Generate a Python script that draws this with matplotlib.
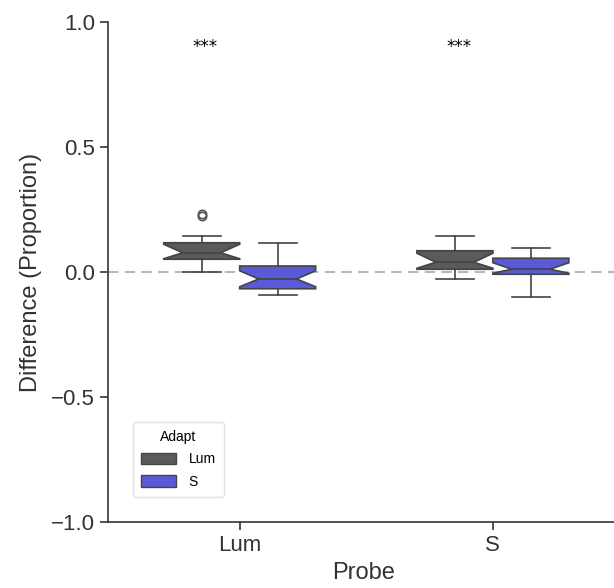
import matplotlib.pyplot as plt
from matplotlib.patches import Patch

plt.rcParams['font.family'] = ['Liberation Sans', 'DejaVu Sans']

# Box summaries per probe (Lum, S) for each adapt condition
probes = ['Lum', 'S']
adapts = ['Lum', 'S']
colors = ['#5a5a5a', '#5a5ad6']

whislo = {'Lum': [0.000, -0.029], 'S': [-0.092, -0.101]}
q1 = {'Lum': [0.051, 0.011], 'S': [-0.067, -0.009]}
med = {'Lum': [0.077, 0.039], 'S': [-0.028, 0.011]}
q3 = {'Lum': [0.117, 0.085], 'S': [0.024, 0.055]}
whishi = {'Lum': [0.144, 0.144], 'S': [0.115, 0.095]}
cilo = {'Lum': [0.053, 0.015], 'S': [-0.059, -0.005]}
cihi = {'Lum': [0.111, 0.075], 'S': [0.005, 0.037]}
fliers = {'Lum': [[0.226, 0.234], []], 'S': [[], []]}

star_labels = ['***', '***']
star_y = 0.9

fig = plt.figure(figsize=(6.14, 5.88), dpi=100)
ax = fig.add_axes([108 / 614, 66 / 588, 511.5 / 614, 500 / 588])

ax.axhline(0, color='#b8b8b8', linestyle='--', linewidth=1.5, dashes=(5, 3), zorder=0)

width = 0.3
offsets = [-0.15, 0.15]
for a, adapt in enumerate(adapts):
    stats = []
    for p in range(len(probes)):
        stats.append(dict(whislo=whislo[adapt][p], q1=q1[adapt][p], med=med[adapt][p],
                          q3=q3[adapt][p], whishi=whishi[adapt][p],
                          cilo=cilo[adapt][p], cihi=cihi[adapt][p],
                          fliers=fliers[adapt][p]))
    pos = [p + offsets[a] for p in range(len(probes))]
    ax.bxp(stats, positions=pos, widths=width, shownotches=True, patch_artist=True,
           manage_ticks=False,
           boxprops=dict(facecolor=colors[a], edgecolor='#444444', linewidth=1.2),
           medianprops=dict(color='#444444', linewidth=1.2),
           whiskerprops=dict(color='#444444', linewidth=1.2),
           capprops=dict(color='#444444', linewidth=1.2),
           flierprops=dict(marker='o', markerfacecolor='none', markeredgecolor='#555555',
                           markersize=6, markeredgewidth=1.2),
           capwidths=width * 0.5)

# significance marks
for p, lab in enumerate(star_labels):
    ax.text(p - 0.135, star_y, lab, ha='center', va='center', fontsize=12,
            family='DejaVu Sans', color='black')

ax.set_xlim(-0.52, 1.5)
ax.set_ylim(-1.0, 1.0)
ax.set_xticks(range(len(probes)))
ax.set_xticklabels(probes)
ax.set_yticks([-1.0, -0.5, 0.0, 0.5, 1.0])
ax.set_yticklabels(['\u22121.0', '\u22120.5', '0.0', '0.5', '1.0'])
ax.tick_params(labelsize=16, length=6, width=1.2, color='#333333', labelcolor='#333333')
ax.set_xlabel('Probe', fontsize=17, color='#333333', labelpad=4)
ax.set_ylabel('Difference (Proportion)', fontsize=17, color='#333333', labelpad=6)
for s in ['top', 'right']:
    ax.spines[s].set_visible(False)
for s in ['left', 'bottom']:
    ax.spines[s].set_linewidth(1.2)
    ax.spines[s].set_color('#333333')

handles = [Patch(facecolor=c, edgecolor='#444444', label=l) for c, l in zip(colors, adapts)]
leg = ax.legend(handles=handles, title='Adapt', loc='lower left',
                bbox_to_anchor=(0.049, 0.05), borderaxespad=0, fontsize=10,
                title_fontsize=10, handlelength=2.5, handleheight=0.9,
                handletextpad=0.9, labelspacing=0.6, borderpad=0.6,
                frameon=True, fancybox=True, edgecolor='#dddddd')
leg.get_frame().set_linewidth(1.0)

fig.savefig('out.png', dpi=100)
